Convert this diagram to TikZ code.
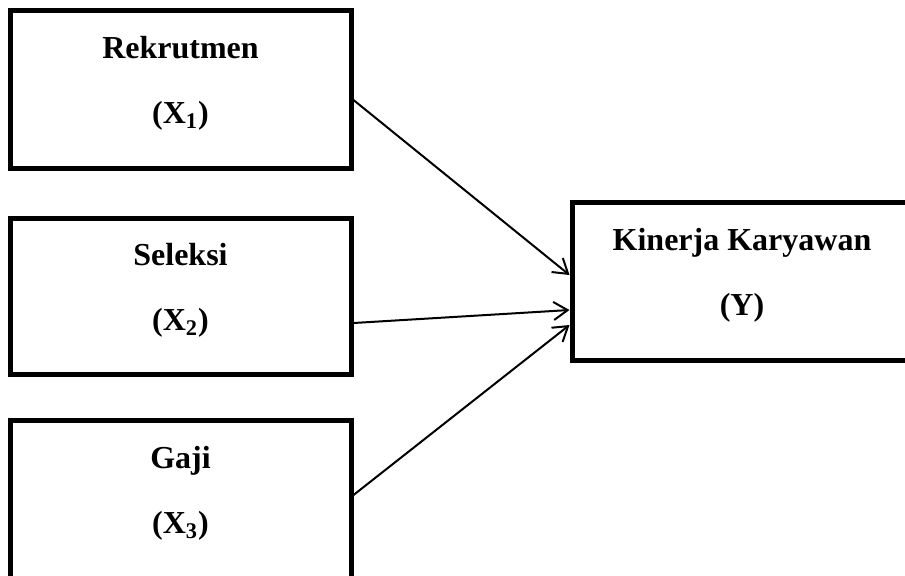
\documentclass[tikz,border=0pt]{standalone}
\usepackage{fontspec}
\setmainfont{Liberation Serif}
\usetikzlibrary{arrows.meta}

\begin{document}
\begin{tikzpicture}[x=0.5pt, y=-0.5pt]
        \tikzset{
            every node/.style={
                align=center,
                font=\fontsize{16}{19}\selectfont\bfseries,
            },
            varbox/.style={draw, line width=2.5pt, inner sep=0pt,
                minimum width=170.5pt, minimum height=79pt},
            link/.style={-{Straight Barb[length=7pt, width=9pt]}, line width=1pt},
        }
        \clip (0,0) rectangle (905,575);

        % independent variables
        \node[varbox] (rek) at (180.5, 89) {};
        \node (rektxt) at ([yshift=3pt]rek.center) {Rekrutmen\\[13.5pt](X\textsubscript{1})};
        \node[varbox, minimum height=78pt] (sel) at (180.5, 296) {};
        \node (seltxt) at ([yshift=3pt]sel.center) {Seleksi\\[13.5pt](X\textsubscript{2})};
        \node[varbox] (gaj) at (180.5, 499) {};
        \node (gajtxt) at ([yshift=3pt]gaj.center) {Gaji\\[13.5pt](X\textsubscript{3})};

        % dependent variable
        \node[varbox, minimum width=170pt] (kin) at (742, 281) {};
        \node (kintxt) at ([yshift=3pt]kin.center) {Kinerja Karyawan\\[13.5pt](Y)};

        \draw[link] ([yshift=-5.5pt]rek.east) -- ([yshift=3pt]kin.west);
        \draw[link] ([yshift=-13.5pt]sel.east) -- ([yshift=-14.5pt]kin.west);
        \draw[link] ([yshift=2pt]gaj.east) -- ([yshift=-22pt]kin.west);
    \end{tikzpicture}
\end{document}
